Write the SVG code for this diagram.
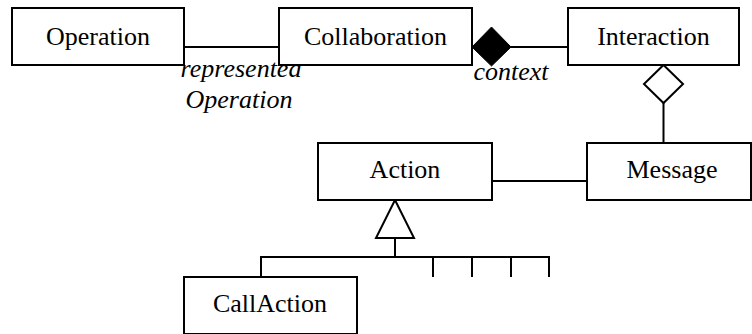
<svg xmlns="http://www.w3.org/2000/svg" width="752" height="334" viewBox="0 0 752 334">
<style>
.box{fill:#fff;stroke:#000;stroke-width:2}
.ln{fill:none;stroke:#000;stroke-width:2}
.t{font-family:'Liberation Serif','Times New Roman',Tinos,Times,'DejaVu Serif',serif;font-size:26px;fill:#000;text-anchor:middle}
.i{font-style:italic}
</style>
<rect width="752" height="334" fill="#fff"/>
<g id="connectors">
<line class="ln" x1="184" y1="47" x2="279" y2="47"/>
<line class="ln" x1="511" y1="47" x2="568" y2="47"/>
<polygon points="472,47 491.5,27 511,47 491.5,66" fill="#000" stroke="#000" stroke-width="1"/>
<polygon class="ln" points="663.5,65 683,84 663.5,103 644,84" style="fill:#fff"/>
<line class="ln" x1="663.5" y1="103" x2="663.5" y2="143"/>
<line class="ln" x1="492" y1="181" x2="587" y2="181"/>
<polygon class="ln" points="395,200 414,238 376,238" style="fill:#fff"/>
<line class="ln" x1="395" y1="238" x2="395" y2="257"/>
<polyline class="ln" points="261,277 261,257 549,257 549,277"/>
<line class="ln" x1="433" y1="257" x2="433" y2="277"/>
<line class="ln" x1="472" y1="257" x2="472" y2="277"/>
<line class="ln" x1="511" y1="257" x2="511" y2="277"/>
<text class="t i" x="241" y="77" font-family="Liberation Serif, serif">represented</text>
<text class="t i" x="239" y="108" font-family="Liberation Serif, serif">Operation</text>
<text class="t i" x="511" y="80" font-family="Liberation Serif, serif">context</text>
</g>
<g id="operation"><rect class="box" x="12" y="8" width="172" height="57"/><text class="t" x="98" y="45" font-family="Liberation Serif, serif">Operation</text></g>
<g id="collaboration"><rect class="box" x="279" y="8" width="193" height="57"/><text class="t" x="375.5" y="45" font-family="Liberation Serif, serif">Collaboration</text></g>
<g id="interaction"><rect class="box" x="568" y="8" width="171" height="57"/><text class="t" x="653.5" y="45" font-family="Liberation Serif, serif">Interaction</text></g>
<g id="message"><rect class="box" x="587" y="143" width="164" height="57"/><text class="t" x="672" y="178" font-family="Liberation Serif, serif">Message</text></g>
<g id="action"><rect class="box" x="318" y="143" width="174" height="57"/><text class="t" x="405" y="178" font-family="Liberation Serif, serif">Action</text></g>
<g id="callaction"><rect class="box" x="184" y="277" width="173" height="57"/><text class="t" x="270" y="312" font-family="Liberation Serif, serif">CallAction</text></g>
</svg>
